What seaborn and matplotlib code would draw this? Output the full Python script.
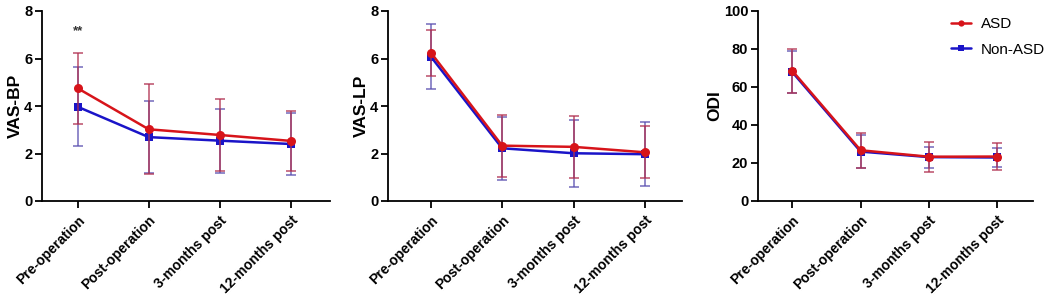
import pandas as pd
import seaborn as sns
import matplotlib
matplotlib.use("Agg")
import matplotlib.pyplot as plt
from matplotlib.lines import Line2D

# values
timepoints = ["Pre-operation", "Post-operation", "3-months post", "12-months post"]
groups = ["ASD", "Non-ASD"]

vas_bp_asd = [4.75, 3.02, 2.78, 2.53]
vas_bp_asd_sd = [1.50, 1.89, 1.50, 1.28]
vas_bp_non = [3.97, 2.69, 2.54, 2.40]
vas_bp_non_sd = [1.67, 1.52, 1.34, 1.30]

vas_lp_asd = [6.25, 2.33, 2.28, 2.05]
vas_lp_asd_sd = [0.97, 1.30, 1.31, 1.10]
vas_lp_non = [6.08, 2.22, 2.01, 1.97]
vas_lp_non_sd = [1.38, 1.32, 1.42, 1.34]

odi_asd = [68.6, 26.7, 23.3, 23.4]
odi_asd_sd = [11.5, 9.2, 7.9, 7.0]
odi_non = [67.9, 26.0, 23.1, 22.9]
odi_non_sd = [11.0, 8.6, 5.5, 4.8]

sns.set_style("ticks")
plt.rcParams['font.family'] = ['Liberation Sans', 'DejaVu Sans']
plt.rcParams['font.weight'] = 'bold'
for key in ['text.color', 'axes.labelcolor', 'xtick.color', 'ytick.color']:
    plt.rcParams[key] = 'black'

colors = {"ASD": "#d7141a", "Non-ASD": "#1a14c8"}
err_colors = {"ASD": "#b0304f", "Non-ASD": "#5a4fb0"}
markers = {"ASD": "o", "Non-ASD": "s"}
msizes = {"ASD": 6.5, "Non-ASD": 5.5}

panels = [
    ("VAS-BP", vas_bp_asd, vas_bp_asd_sd, vas_bp_non, vas_bp_non_sd, (0, 8), [0, 2, 4, 6, 8], (-0.5, 3.55)),
    ("VAS-LP", vas_lp_asd, vas_lp_asd_sd, vas_lp_non, vas_lp_non_sd, (0, 8), [0, 2, 4, 6, 8], (-0.6, 3.52)),
    ("ODI", odi_asd, odi_asd_sd, odi_non, odi_non_sd, (0, 100), [0, 20, 40, 60, 80, 100], (-0.5, 3.52)),
]
positions = [
    [42 / 1049, 103 / 304, 288 / 1049, 190 / 304],
    [388 / 1049, 103 / 304, 294 / 1049, 190 / 304],
    [758 / 1049, 103 / 304, 275 / 1049, 190 / 304],
]

fig = plt.figure(figsize=(10.49, 3.04), dpi=100)

for (ylab, asd, asd_sd, non, non_sd, ylim, yticks, xlim), pos in zip(panels, positions):
    ax = fig.add_axes(pos)
    df = pd.DataFrame({
        "time": timepoints * 2,
        "x": list(range(4)) * 2,
        "mean": asd + non,
        "sd": asd_sd + non_sd,
        "group": ["ASD"] * 4 + ["Non-ASD"] * 4,
    })
    # Non-ASD first so the red line sits on top
    for g, z in [("Non-ASD", 3), ("ASD", 4)]:
        sub = df[df["group"] == g]
        ax.errorbar(sub["x"], sub["mean"], yerr=sub["sd"], fmt="none",
                    ecolor=err_colors[g], elinewidth=1.1, capsize=3.5,
                    capthick=1.1, alpha=0.85, zorder=z - 1)
        sns.lineplot(data=sub, x="x", y="mean", color=colors[g], marker=markers[g],
                     markersize=msizes[g], markeredgewidth=0, linewidth=1.8, ax=ax,
                     zorder=z, legend=False)

    ax.set_xlim(*xlim)
    ax.set_ylim(*ylim)
    ax.set_yticks(yticks)
    ax.set_xticks(range(4))
    ax.set_xticklabels(timepoints, rotation=45, ha="right", rotation_mode="anchor",
                       fontsize=10, fontweight="bold")
    ax.tick_params(axis="y", labelsize=10.5, width=1.3, length=5, pad=2)
    ax.tick_params(axis="x", width=1.3, length=5, pad=4)
    for lab in ax.get_yticklabels():
        lab.set_fontweight("bold")
    ax.set_xlabel("")
    ax.set_ylabel(ylab, fontsize=12.5, fontweight="bold", labelpad=1)
    for s in ["left", "bottom"]:
        ax.spines[s].set_linewidth(1.3)
        ax.spines[s].set_color("black")
    sns.despine(ax=ax)

    if ylab == "VAS-BP":
        ax.text(0, 7.15, "**", ha="center", va="center", fontsize=9.5, color="#333333")
    if ylab == "ODI":
        handles = [Line2D([], [], color=colors[g], marker=markers[g], markersize=4.5,
                          markeredgewidth=0, linewidth=1.8) for g in groups]
        ax.legend(handles, groups, loc="upper right", bbox_to_anchor=(1.095, 1.04),
                  frameon=False, prop={"size": 11, "weight": "normal"},
                  handlelength=1.3, handletextpad=0.7, labelspacing=0.75)

plt.savefig("out.png", dpi=100)
